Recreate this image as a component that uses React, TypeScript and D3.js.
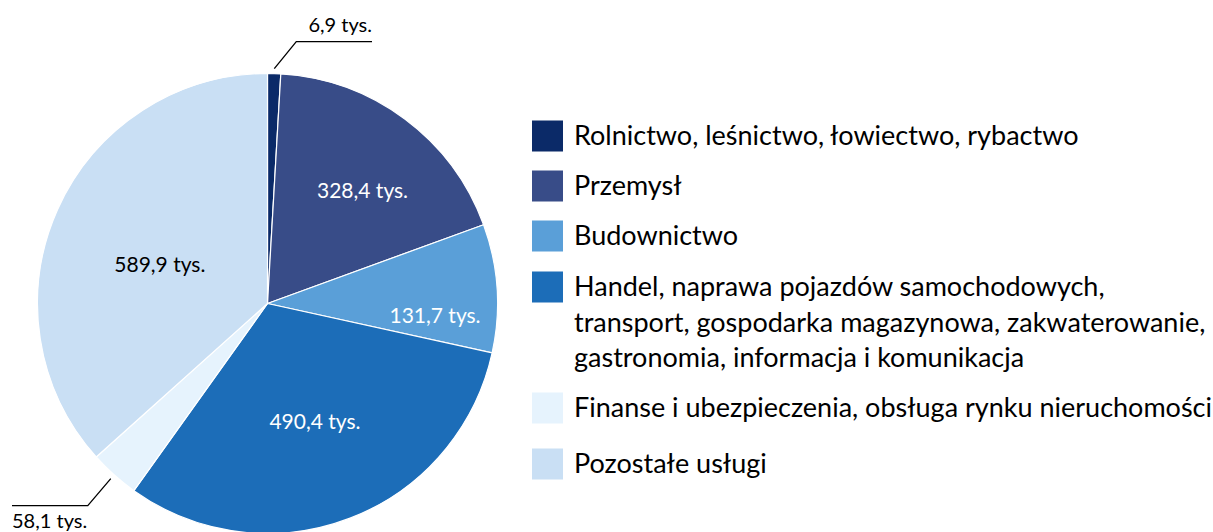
import React, { useEffect, useRef } from "react";
import * as d3 from "d3";

const categories = [
  "Rolnictwo, leśnictwo, łowiectwo, rybactwo",
  "Przemysł",
  "Budownictwo",
  "Handel, naprawa pojazdów samochodowych, transport, gospodarka magazynowa, zakwaterowanie, gastronomia, informacja i komunikacja",
  "Finanse i ubezpieczenia, obsługa rynku nieruchomości",
  "Pozostałe usługi",
];
const legendLines = [
  ["Rolnictwo, leśnictwo, łowiectwo, rybactwo"],
  ["Przemysł"],
  ["Budownictwo"],
  [
    "Handel, naprawa pojazdów samochodowych,",
    "transport, gospodarka magazynowa, zakwaterowanie,",
    "gastronomia, informacja i komunikacja",
  ],
  ["Finanse i ubezpieczenia, obsługa rynku nieruchomości"],
  ["Pozostałe usługi"],
];
// value labels as printed on the chart (thousands)
const valueLabels = ["6,9 tys.", "328,4 tys.", "131,7 tys.", "490,4 tys.", "58,1 tys.", "589,9 tys."];
// slice shares (%)
const shares = [0.92, 18.5, 9.0, 31.4, 3.5, 36.6];
const colors = ["#0b2a68", "#384c88", "#5a9fd8", "#1c6db8", "#e6f3fd", "#c9dff4"];
const labelColors = ["#000", "#fff", "#fff", "#fff", "#000", "#000"];

// layout (not data)
const labelRadiusFrac = [0, 0.645, 0.73, 0.55, 0, 0.5];
const labelAngleShift = [0, 3.2, 7.5, -1, 0, -3.5];

const FONT = "Lato, 'Open Sans', sans-serif";

export default function App() {
  const ref = useRef<SVGSVGElement | null>(null);
  useEffect(() => {
    const svg = d3.select(ref.current);
    svg.selectAll("*").remove();
    const cx = 267.5, cy = 303.5, r = 230;
    const pie = d3.pie<number>().sort(null).value((d) => d);
    const arcs = pie(shares);
    const arc = d3.arc<d3.PieArcDatum<number>>().innerRadius(0).outerRadius(r);
    const g = svg.append("g").attr("transform", `translate(${cx},${cy})`);
    g.selectAll("path")
      .data(arcs)
      .join("path")
      .attr("d", arc)
      .attr("fill", (_, i) => colors[i])
      .attr("stroke", "#fff")
      .attr("stroke-width", 1.2)
      .attr("stroke-linejoin", "round");

    const deg = Math.PI / 180;
    arcs.forEach((a, i) => {
      const mid = (a.startAngle + a.endAngle) / 2;
      if (labelRadiusFrac[i] > 0) {
        const ang = mid + labelAngleShift[i] * deg;
        const rr = r * labelRadiusFrac[i];
        g.append("text")
          .attr("x", rr * Math.sin(ang))
          .attr("y", -rr * Math.cos(ang))
          .attr("text-anchor", "middle")
          .attr("dominant-baseline", "central")
          .attr("font-family", FONT)
          .attr("font-size", 21)
          .attr("fill", labelColors[i])
          .text(valueLabels[i]);
      }
    });

    // outside labels with leader lines
    const out = (i: number, elbowDx: number, elbowDy: number, endX: number) => {
      const a = arcs[i];
      const mid = (a.startAngle + a.endAngle) / 2;
      const x0 = (r + 5) * Math.sin(mid);
      const y0 = -(r + 5) * Math.cos(mid);
      const x1 = x0 + elbowDx, y1 = y0 + elbowDy;
      g.append("polyline")
        .attr("points", `${x0},${y0} ${x1},${y1} ${endX},${y1}`)
        .attr("fill", "none")
        .attr("stroke", "#000")
        .attr("stroke-width", 1.3);
      return { x1, y1 };
    };
    const p0 = out(0, 22, -27, 372 - cx);
    g.append("text")
      .attr("x", 372 - cx)
      .attr("y", p0.y1 - 10)
      .attr("text-anchor", "end")
      .attr("font-family", FONT)
      .attr("font-size", 20)
      .text(valueLabels[0]);
    const p4 = out(4, -23, 27, 12 - cx);
    g.append("text")
      .attr("x", 12 - cx)
      .attr("y", p4.y1 + 22)
      .attr("text-anchor", "start")
      .attr("font-family", FONT)
      .attr("font-size", 20)
      .text(valueLabels[4]);

    // legend
    const rowCenters = [136, 186, 236, 287, 408, 464];
    const lg = svg.append("g");
    categories.forEach((c, i) => {
      const yc = rowCenters[i];
      lg.append("rect")
        .attr("x", 532)
        .attr("y", yc - 15.5)
        .attr("width", 31)
        .attr("height", 31)
        .attr("fill", colors[i]);
      legendLines[i].forEach((line, j) => {
        lg.append("text")
          .attr("x", 574)
          .attr("y", yc + 9 + j * 35.5)
          .attr("font-family", FONT)
          .attr("font-size", 27)
          .attr("fill", "#000")
          .text(line);
      });
    });
  }, []);
  return (
    <svg
      ref={ref}
      width={1213}
      height={532}
      style={{ position: "absolute", left: 0, top: 0, background: "#fff" }}
    />
  );
}
